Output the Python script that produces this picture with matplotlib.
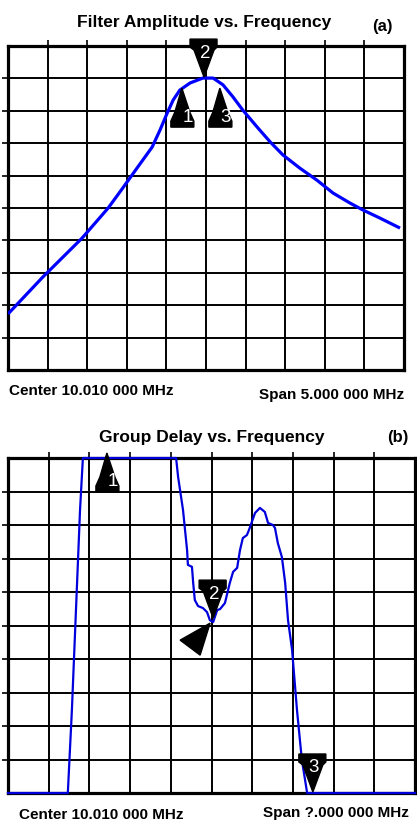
import numpy as np
import matplotlib
matplotlib.use('Agg')
import matplotlib.pyplot as plt
from matplotlib.patches import Polygon
from matplotlib.transforms import ScaledTranslation

plt.rcParams['font.family'] = ['Liberation Sans', 'DejaVu Sans']

# Panel (a): filter amplitude, screen divisions (10 x 10)
amp_x = [0.0, 0.88, 1.87, 2.53, 2.90, 3.28, 3.64, 3.84, 4.02, 4.17, 4.34, 4.60,
         4.92, 5.18, 5.43, 5.68, 5.93, 6.29, 6.62, 6.94, 7.37, 7.80, 8.21, 8.64,
         8.96, 9.39, 9.90]
amp_y = [1.73, 2.87, 4.07, 5.00, 5.62, 6.27, 6.88, 7.41, 7.93, 8.33, 8.64, 8.86,
         9.01, 9.01, 8.80, 8.43, 8.02, 7.50, 7.04, 6.64, 6.23, 5.86, 5.46, 5.15,
         4.94, 4.69, 4.38]
amp_mk_x = [4.39, 4.95, 5.35]
amp_mk_y = [8.70, 9.04, 8.70]
amp_mk_dir = ['up', 'down', 'up']

# Panel (b): group delay
gd_x = [0.0, 1.47, 1.57, 1.67, 1.77, 1.84, 4.13, 4.18, 4.30, 4.40, 4.42, 4.52,
        4.55, 4.59, 4.67, 4.79, 4.89, 4.96, 5.04, 5.14, 5.21, 5.33, 5.45, 5.53,
        5.63, 5.70, 5.77, 5.87, 5.92, 6.07, 6.19, 6.31, 6.39, 6.51, 6.56, 6.63,
        6.73, 6.81, 6.88, 6.98, 7.10, 7.22, 7.35, 10.0]
gd_y = [0.0, 0.0, 2.48, 5.46, 8.45, 10.0, 10.0, 9.43, 8.45, 7.25, 6.81, 6.75,
        6.27, 5.76, 5.58, 5.52, 5.40, 5.16, 5.10, 5.46, 5.49, 5.67, 6.27, 6.60,
        6.72, 7.25, 7.61, 7.70, 7.85, 8.36, 8.51, 8.39, 8.06, 8.00, 7.91, 7.46,
        7.04, 6.27, 5.16, 4.27, 2.48, 0.99, 0.0, 0.0]
gd_mk_x = [2.43, 5.04, 7.49]
gd_mk_y = [10.15, 5.22, 0.03]
gd_mk_dir = ['up', 'down', 'down']

fig = plt.figure(figsize=(4.17, 8.24), dpi=100)

# marker shapes in pixels, tip at (0, 0), y up
UP = [(0, 0), (-7, -24), (-11, -33), (-11, -39), (12, -39), (12, -33), (8, -24)]
DOWN = [(0, 0), (-10, 27), (-14, 30), (-14, 38), (13, 38), (13, 30), (10, 27)]


def draw_marker(ax, x, y, kind, num, shape=None):
    if shape is None:
        shape = UP if kind == 'up' else DOWN
    verts = np.array(shape) / 100.0
    tr = fig.dpi_scale_trans + ScaledTranslation(x, y, ax.transData)
    ax.add_patch(Polygon(verts, closed=True, facecolor='black', edgecolor='black',
                         transform=tr, clip_on=False, zorder=5))
    if num is not None:
        off = (6, -29) if kind == 'up' else (1, 24)
        ax.annotate(num, (x, y), xytext=off, textcoords='offset pixels',
                    ha='center', va='center', color='white', fontsize=13.5,
                    zorder=6, annotation_clip=False)


def style_axes(ax):
    ax.set_xlim(0, 10)
    ax.set_ylim(0, 10)
    ax.set_xticks(np.arange(1, 10))
    ax.set_yticks(np.arange(1, 10))
    ax.grid(True, color='black', linewidth=1.4)
    ax.tick_params(axis='both', which='both', direction='out', length=4, width=1.2,
                   left=True, top=True, bottom=False, right=False,
                   labelleft=False, labelbottom=False)
    for s in ax.spines.values():
        s.set_linewidth(2.3)
    ax.set_axisbelow(True)


# ---- (a) ----
ax1 = fig.add_axes([8 / 417, 1 - 370 / 824, 396 / 417, 324 / 824])
style_axes(ax1)
ax1.plot(amp_x, amp_y, color='#0000ff', linewidth=2.3, zorder=3,
         solid_capstyle='butt', solid_joinstyle='round')
for i in range(3):
    draw_marker(ax1, amp_mk_x[i], amp_mk_y[i], amp_mk_dir[i], str(i + 1))
fig.text(204 / 417, 1 - 22 / 824, 'Filter Amplitude vs. Frequency', ha='center', va='center',
         fontsize=12.5, fontweight='bold')
fig.text(382 / 417, 1 - 26 / 824, '(a)', ha='center', va='center', fontsize=12, fontweight='bold')
fig.text(9 / 417, 1 - 391 / 824, 'Center 10.010 000 MHz', ha='left', va='center',
         fontsize=11, fontweight='bold')
fig.text(404 / 417, 1 - 395 / 824, 'Span 5.000 000 MHz', ha='right', va='center',
         fontsize=11, fontweight='bold')

# ---- (b) ----
ax2 = fig.add_axes([8 / 417, 1 - 793 / 824, 407 / 417, 335 / 824])
style_axes(ax2)
ax2.plot(gd_x, gd_y, color='#0000dd', linewidth=1.6, zorder=3, clip_on=False,
         solid_joinstyle='round')
for i in range(3):
    draw_marker(ax2, gd_mk_x[i], gd_mk_y[i], gd_mk_dir[i], str(i + 1))
# reference (delta) pointer next to marker 2
draw_marker(ax2, gd_mk_x[1], gd_mk_y[1], 'left', None,
            shape=[(-3, -5), (-33, -22), (-13, -37)])
fig.text(212 / 417, 1 - 437 / 824, 'Group Delay vs. Frequency', ha='center', va='center',
         fontsize=12.5, fontweight='bold')
fig.text(398 / 417, 1 - 437 / 824, '(b)', ha='center', va='center', fontsize=12, fontweight='bold')
fig.text(19 / 417, 1 - 815 / 824, 'Center 10.010 000 MHz', ha='left', va='center',
         fontsize=11, fontweight='bold')
fig.text(409 / 417, 1 - 813 / 824, 'Span ?.000 000 MHz', ha='right', va='center',
         fontsize=11, fontweight='bold')

fig.savefig('out.png', dpi=100)
